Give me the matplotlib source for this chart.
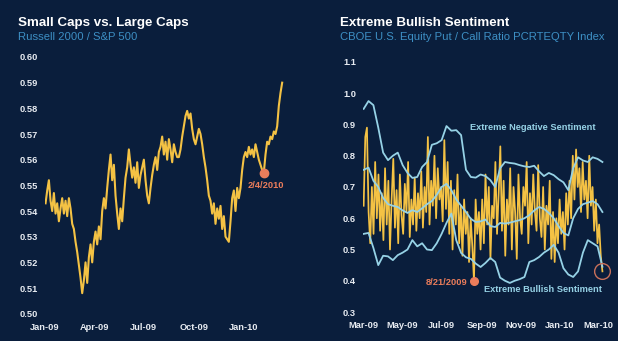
import matplotlib
matplotlib.use("Agg")
import matplotlib.pyplot as plt
import matplotlib.dates as mdates
import numpy as np
import pandas as pd

BG = "#0a1e3c"
YELLOW = "#f4c244"
BAND = "#96d2e6"
SALMON = "#eb7d5b"
SUB = "#3d8fc4"
TICK = "#e8ecf2"

plt.rcParams["font.family"] = ["Liberation Sans", "DejaVu Sans"]

# Russell 2000 / S&P 500 ratio, roughly every third day, one row per month
RATIO = [
    0.543, 0.548, 0.552, 0.544, 0.540, 0.547, 0.539, 0.543, 0.536, 0.541,  # Jan-09
    0.545, 0.539, 0.544, 0.538, 0.545, 0.541, 0.535, 0.533, 0.528, 0.524,  # Feb
    0.519, 0.514, 0.508, 0.513, 0.520, 0.512, 0.522, 0.527, 0.520, 0.528,  # Mar
    0.532, 0.527, 0.534, 0.529, 0.540, 0.545, 0.541, 0.549, 0.556, 0.562,  # Apr
    0.552, 0.558, 0.546, 0.539, 0.533, 0.541, 0.536, 0.545, 0.553, 0.557,  # May
    0.564, 0.558, 0.553, 0.557, 0.551, 0.559, 0.549, 0.554, 0.557, 0.560,  # Jun
    0.552, 0.546, 0.543, 0.549, 0.554, 0.558, 0.561, 0.556, 0.563, 0.565,  # Jul
    0.569, 0.562, 0.567, 0.560, 0.568, 0.564, 0.559, 0.566, 0.563, 0.561,  # Aug
    0.561, 0.564, 0.569, 0.573, 0.577, 0.579, 0.576, 0.578, 0.572, 0.568,  # Sep
    0.566, 0.569, 0.572, 0.570, 0.566, 0.561, 0.557, 0.552, 0.546, 0.544,  # Oct
    0.539, 0.543, 0.535, 0.541, 0.537, 0.542, 0.533, 0.538, 0.530, 0.529,  # Nov
    0.528, 0.536, 0.545, 0.548, 0.540, 0.549, 0.545, 0.549, 0.556, 0.561,  # Dec
    0.563, 0.561, 0.565, 0.562, 0.564, 0.561, 0.566, 0.563, 0.560, 0.558,  # Jan-10
    0.556, 0.555, 0.562, 0.567, 0.566, 0.569, 0.568, 0.571, 0.570, 0.573,  # Feb
    0.581, 0.586, 0.590,                                                   # Mar
]
RATIO_START, RATIO_END = "2009-01-02", "2010-03-12"
RATIO_MARK = "2/4/2010"

# CBOE equity put/call ratio, roughly every 2-3 days, one row per month
PCR = [
    0.64, 0.86, 0.89, 0.62, 0.52, 0.70, 0.55, 0.78, 0.60, 0.74, 0.56, 0.68,  # Mar-09
    0.53, 0.76, 0.58, 0.72, 0.50, 0.66, 0.79, 0.57, 0.69, 0.52, 0.74, 0.61,  # Apr
    0.55, 0.71, 0.62, 0.78, 0.54, 0.66, 0.58, 0.73, 0.56, 0.68, 0.60, 0.75,  # May
    0.57, 0.70, 0.62, 0.86, 0.58, 0.72, 0.64, 0.80, 0.60, 0.76, 0.66, 0.70,  # Jun
    0.59, 0.85, 0.63, 0.78, 0.55, 0.72, 0.50, 0.69, 0.58, 0.74, 0.52, 0.64,  # Jul
    0.48, 0.66, 0.55, 0.62, 0.46, 0.60, 0.51, 0.40, 0.66, 0.55, 0.62, 0.50,  # Aug
    0.66, 0.52, 0.74, 0.58, 0.70, 0.47, 0.64, 0.60, 0.78, 0.55, 0.68, 0.83,  # Sep
    0.56, 0.72, 0.48, 0.66, 0.58, 0.76, 0.50, 0.70, 0.62, 0.47, 0.74, 0.60,  # Oct
    0.55, 0.70, 0.64, 0.78, 0.52, 0.68, 0.58, 0.74, 0.62, 0.56, 0.77, 0.60,  # Nov
    0.54, 0.70, 0.50, 0.64, 0.58, 0.72, 0.47, 0.62, 0.46, 0.60, 0.52, 0.66,  # Dec
    0.55, 0.62, 0.50, 0.68, 0.58, 0.72, 0.60, 0.80, 0.66, 0.82, 0.70, 0.76,  # Jan-10
    0.62, 0.78, 0.66, 0.72, 0.60, 0.80, 0.64, 0.70, 0.56, 0.66, 0.52, 0.58,  # Feb
    0.48, 0.43,                                                              # Mar
]
PCR_START, PCR_END = "2009-03-02", "2010-03-08"
PCR_MARK = "8/21/2009"

# weekly envelope: upper band, moving average, lower band
UPPER = [
    0.950, 0.975, 0.962, 0.890, 0.810, 0.786, 0.800, 0.810, 0.770, 0.745,
    0.729, 0.732, 0.764, 0.780, 0.835, 0.840, 0.850, 0.895, 0.880, 0.882,
    0.866, 0.755, 0.732, 0.730, 0.740, 0.735, 0.722, 0.700, 0.760, 0.780,
    0.777, 0.775, 0.770, 0.766, 0.764, 0.768, 0.750, 0.735, 0.745, 0.738,
    0.725, 0.715, 0.690, 0.760, 0.795, 0.785, 0.780, 0.795, 0.790, 0.780,
]
MIDDLE = [
    0.755, 0.762, 0.720, 0.700, 0.665, 0.645, 0.640, 0.636, 0.625, 0.617,
    0.626, 0.620, 0.632, 0.645, 0.655, 0.675, 0.700, 0.710, 0.690, 0.660,
    0.640, 0.620, 0.598, 0.588, 0.590, 0.596, 0.575, 0.572, 0.585, 0.583,
    0.586, 0.590, 0.594, 0.600, 0.610, 0.625, 0.636, 0.630, 0.617, 0.600,
    0.575, 0.553, 0.545, 0.600, 0.630, 0.645, 0.650, 0.655, 0.645, 0.620,
]
LOWER = [
    0.550, 0.553, 0.505, 0.450, 0.480, 0.478, 0.466, 0.482, 0.490, 0.500,
    0.530, 0.510, 0.520, 0.500, 0.498, 0.520, 0.550, 0.585, 0.615, 0.530,
    0.489, 0.475, 0.470, 0.455, 0.444, 0.457, 0.473, 0.460, 0.410, 0.400,
    0.393, 0.400, 0.405, 0.412, 0.460, 0.466, 0.476, 0.490, 0.500, 0.515,
    0.490, 0.440, 0.420, 0.412, 0.430, 0.490, 0.530, 0.520, 0.510, 0.445,
]

W, H = 618, 341


def style_axes(ax):
    ax.set_facecolor(BG)
    for spine in ax.spines.values():
        spine.set_visible(False)
    ax.tick_params(length=0, colors=TICK, labelsize=6.7)
    ax.tick_params(axis="y", pad=5)
    ax.tick_params(axis="x", pad=6.5)
    for lbl in ax.get_xticklabels() + ax.get_yticklabels():
        lbl.set_fontweight("bold")


fig = plt.figure(figsize=(W / 100, H / 100), dpi=100, facecolor=BG)

# ---- left panel: small caps vs large caps
ax1 = fig.add_axes([45 / W, 27.3 / H, 238.8 / W, 256.7 / H])
r_dates = pd.date_range(RATIO_START, RATIO_END, periods=len(RATIO))
ratio = np.array(RATIO)
ax1.plot(r_dates, ratio, color=YELLOW, lw=1.5, solid_joinstyle="round")

# low point in early February, marked with a dot
feb = (r_dates >= "2010-02-01") & (r_dates < "2010-02-15")
i_low = np.where(feb)[0][np.argmin(ratio[feb])]
ax1.plot(r_dates[i_low], ratio[i_low], "o", color=SALMON, ms=6, zorder=5)
ax1.annotate(RATIO_MARK, (r_dates[i_low], ratio[i_low]), xytext=(1.5, -9.5),
             textcoords="offset points", ha="center", va="center",
             color=SALMON, fontsize=6.7, fontweight="bold")

ax1.set_xlim(pd.Timestamp("2009-01-01"), pd.Timestamp("2010-03-15"))
ax1.set_ylim(0.50, 0.60)
ax1.set_yticks(np.arange(0.50, 0.601, 0.01))
ax1.yaxis.set_major_formatter(plt.FormatStrFormatter("%.2f"))
ax1.xaxis.set_major_locator(mdates.MonthLocator(bymonth=[1, 4, 7, 10]))
ax1.xaxis.set_major_formatter(mdates.DateFormatter("%b-%y"))
style_axes(ax1)

fig.text(18 / W, 1 - 26 / H, "Small Caps vs. Large Caps", color="white",
         fontsize=9.6, fontweight="bold", va="baseline")
fig.text(18 / W, 1 - 40 / H, "Russell 2000 / S&P 500", color=SUB,
         fontsize=8.1, va="baseline")

# ---- right panel: put/call ratio with sentiment bands
ax2 = fig.add_axes([363 / W, 29 / H, 242 / W, 250 / H])
p_dates = pd.date_range(PCR_START, PCR_END, periods=len(PCR))
b_dates = pd.date_range(PCR_START, PCR_END, periods=len(UPPER))
pcr = np.array(PCR)
ax2.plot(p_dates, pcr, color=YELLOW, lw=1.25, zorder=2)
for band in (UPPER, MIDDLE, LOWER):
    ax2.plot(b_dates, band, color=BAND, lw=1.3, zorder=3)

i_min = int(np.argmin(pcr))
ax2.plot(p_dates[i_min], pcr[i_min], "o", color=SALMON, ms=5.5, zorder=5)
ax2.annotate(PCR_MARK, (p_dates[i_min], pcr[i_min]), xytext=(-4.5, -1),
             textcoords="offset points", ha="right", va="center",
             color=SALMON, fontsize=6.7, fontweight="bold")

# open ring around the latest reading
ax2.plot(p_dates[-1], pcr[-1], "o", mfc="none", mec="#c8705a", mew=1.0,
         ms=11.3, zorder=5, clip_on=False)

ax2.text(pd.Timestamp("2009-08-14"), 0.889, "Extreme Negative Sentiment",
         color=BAND, fontsize=6.7, fontweight="bold", va="center")
ax2.text(pd.Timestamp("2009-09-05"), 0.373, "Extreme Bullish Sentiment",
         color=BAND, fontsize=6.7, fontweight="bold", va="center")

ax2.set_xlim(pd.Timestamp("2009-03-01"), pd.Timestamp("2010-03-12"))
ax2.set_ylim(0.3, 1.1)
ax2.set_yticks(np.arange(0.3, 1.101, 0.1))
ax2.yaxis.set_major_formatter(plt.FormatStrFormatter("%.1f"))
ax2.xaxis.set_major_locator(mdates.MonthLocator(bymonth=[1, 3, 5, 7, 9, 11]))
ax2.xaxis.set_major_formatter(mdates.DateFormatter("%b-%y"))
style_axes(ax2)

fig.text(340 / W, 1 - 26 / H, "Extreme Bullish Sentiment", color="white",
         fontsize=9.6, fontweight="bold", va="baseline")
fig.text(340 / W, 1 - 40 / H, "CBOE U.S. Equity Put / Call Ratio PCRTEQTY Index",
         color=SUB, fontsize=8.1, va="baseline")

fig.savefig("out.png", dpi=100, facecolor=BG)
